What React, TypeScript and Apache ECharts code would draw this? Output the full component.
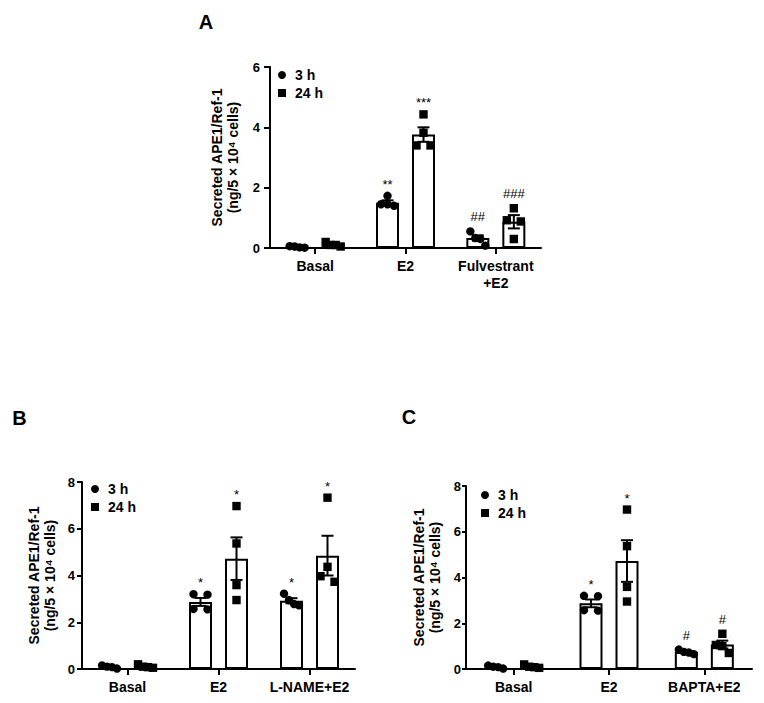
import React, { useEffect, useRef } from "react";
import * as echarts from "echarts";

// ---------- DATA ----------
const categoriesA = ["Basal", "E2", "Fulvestrant\n+E2"];
const categoriesB = ["Basal", "E2", "L-NAME+E2"];
const categoriesC = ["Basal", "E2", "BAPTA+E2"];

// Panel A
const meanA3h = [0.03, 1.5, 0.33];
const semA3h = [0.01, 0.08, 0.09];
const meanA24h = [0.11, 3.76, 0.87];
const semA24h = [0.03, 0.24, 0.22];
const pointsA3h = [
  [0.02, 0.06, 0.01, 0.05],
  [1.73, 1.45, 1.4, 1.45],
  [0.55, 0.33, 0.3, 0.08],
];
const pointsA24h = [
  [0.05, 0.2, 0.1, 0.1],
  [4.43, 3.82, 3.4, 3.4],
  [1.32, 0.92, 0.88, 0.3],
];
const marksA3h = ["", "**", "##"];
const marksA24h = ["", "***", "###"];

// Panel B
const meanB3h = [0.08, 2.87, 2.92];
const semB3h = [0.03, 0.17, 0.11];
const meanB24h = [0.11, 4.72, 4.85];
const semB24h = [0.03, 0.91, 0.85];
const pointsB3h = [
  [0.02, 0.15, 0.1, 0.08],
  [3.2, 3.18, 2.57, 2.55],
  [3.22, 2.95, 2.78, 2.72],
];
const pointsB24h = [
  [0.05, 0.2, 0.08, 0.1],
  [6.97, 5.37, 3.59, 2.95],
  [7.33, 4.37, 3.97, 3.73],
];
const marksB3h = ["", "*", "*"];
const marksB24h = ["", "*", "*"];

// Panel C
const meanC3h = [0.08, 2.87, 0.74];
const semC3h = [0.03, 0.17, 0.04];
const meanC24h = [0.11, 4.72, 1.07];
const semC24h = [0.03, 0.91, 0.17];
const pointsC3h = [
  [0.02, 0.15, 0.1, 0.08],
  [3.2, 3.18, 2.57, 2.55],
  [0.85, 0.72, 0.75, 0.65],
];
const pointsC24h = [
  [0.05, 0.2, 0.08, 0.1],
  [6.97, 5.37, 3.59, 2.95],
  [1.54, 1.05, 1.0, 0.7],
];
const marksC3h = ["", "*", "#"];
const marksC24h = ["", "*", "#"];

const yMaxA = 6;
const yMaxB = 8;
const yMaxC = 8;
const yTickStep = 2;

const seriesNames = ["3 h", "24 h"];
const yTitle = "Secreted APE1/Ref-1\n(ng/5 × 10⁴ cells)";

// ---------- STYLE / LAYOUT ----------
const FONT = '"Liberation Sans", Arial, Helvetica, sans-serif';
const BAR_W = 23;
const BAR_GAP = 13;
const BAR_OFFSET = (BAR_W + BAR_GAP) / 2;

type Panel = {
  letter: string;
  cats: string[];
  yMax: number;
  grid: { left: number; top: number; width: number; height: number };
  legendPos: { left: number; top: number };
  letterPos: { x: number; y: number };
  nameGap: number;
  labelMargin: number;
  tickLen: number;
  mean3: number[];
  sem3: number[];
  mean24: number[];
  sem24: number[];
  pts3: number[][];
  pts24: number[][];
  marks3: string[];
  marks24: string[];
};

const panels: Panel[] = [
  {
    letter: "A",
    cats: categoriesA,
    yMax: yMaxA,
    grid: { left: 270, top: 67, width: 271, height: 181 },
    legendPos: { left: 278, top: 67 },
    letterPos: { x: 206, y: 22 },
    nameGap: 29,
    labelMargin: 10,
    tickLen: 6,
    mean3: meanA3h, sem3: semA3h, mean24: meanA24h, sem24: semA24h,
    pts3: pointsA3h, pts24: pointsA24h, marks3: marksA3h, marks24: marksA24h,
  },
  {
    letter: "B",
    cats: categoriesB,
    yMax: yMaxB,
    grid: { left: 82, top: 482, width: 273, height: 187 },
    legendPos: { left: 91, top: 481 },
    letterPos: { x: 19.5, y: 418 },
    nameGap: 24,
    labelMargin: 7,
    tickLen: 5,
    mean3: meanB3h, sem3: semB3h, mean24: meanB24h, sem24: semB24h,
    pts3: pointsB3h, pts24: pointsB24h, marks3: marksB3h, marks24: marksB24h,
  },
  {
    letter: "C",
    cats: categoriesC,
    yMax: yMaxC,
    grid: { left: 466, top: 486, width: 286, height: 183 },
    legendPos: { left: 481, top: 487 },
    letterPos: { x: 409, y: 417 },
    nameGap: 23,
    labelMargin: 5,
    tickLen: 4,
    mean3: meanC3h, sem3: semC3h, mean24: meanC24h, sem24: semC24h,
    pts3: pointsC3h, pts24: pointsC24h, marks3: marksC3h, marks24: marksC24h,
  },
];

const SPREAD: Record<number, number[]> = {
  1: [0],
  2: [-7, 7],
  3: [-6.5, 0, 6.5],
  4: [-7.5, -2.5, 2.5, 7.5],
};

function makeRenderer(kind: "circle" | "square", sign: number, marks: string[]) {
  return (params: any, api: any) => {
    const c = api.value(0);
    const mean = api.value(1);
    const sem = api.value(2);
    const pts = [api.value(3), api.value(4), api.value(5), api.value(6)];
    const base = api.coord([c, 0]);
    const cx = base[0] + sign * BAR_OFFSET;
    const yTop = api.coord([c, mean + sem])[1];
    const yBot = api.coord([c, Math.max(0, mean - sem)])[1];
    const eb = { stroke: "#000", lineWidth: 2 };
    const children: any[] = [
      { type: "line", shape: { x1: cx, y1: yTop, x2: cx, y2: yBot }, style: eb },
      { type: "line", shape: { x1: cx - 6, y1: yTop, x2: cx + 6, y2: yTop }, style: eb },
      { type: "line", shape: { x1: cx - 6, y1: yBot, x2: cx + 6, y2: yBot }, style: eb },
    ];
    // points with a simple spread of overlapping markers
    const py = pts.map((v: number) => api.coord([c, v])[1]);
    const order = py.map((_: number, i: number) => i).sort((a: number, b: number) => py[a] - py[b]);
    const clusters: number[][] = [];
    let cur: number[] = [];
    order.forEach((idx: number) => {
      if (cur.length && py[idx] - py[cur[cur.length - 1]] >= 8) {
        clusters.push(cur);
        cur = [];
      }
      cur.push(idx);
    });
    if (cur.length) clusters.push(cur);
    clusters.forEach((cl) => {
      const offs = SPREAD[cl.length] || SPREAD[4];
      cl.forEach((idx, k) => {
        const x = cx + offs[k];
        const y = py[idx];
        if (kind === "circle") {
          children.push({ type: "circle", shape: { cx: x, cy: y, r: 4.2 }, style: { fill: "#000" } });
        } else {
          children.push({ type: "rect", shape: { x: x - 4.2, y: y - 4.2, width: 8.4, height: 8.4 }, style: { fill: "#000" } });
        }
      });
    });
    const label = marks[params.dataIndex];
    if (label) {
      const top = Math.min(yTop, ...py);
      const isStar = label.indexOf("*") >= 0;
      children.push({
        type: "text",
        x: cx,
        y: top - 14.5 + (isStar ? 3 : 0),
        style: {
          text: label,
          fill: "#000",
          fontSize: 13,
          fontFamily: FONT,
          align: "center",
          verticalAlign: "middle",
        },
      });
    }
    return { type: "group", children };
  };
}

function buildOption() {
  const grid: any[] = [];
  const xAxis: any[] = [];
  const yAxis: any[] = [];
  const series: any[] = [];
  const legend: any[] = [];
  const graphic: any[] = [];

  panels.forEach((p, i) => {
    grid.push({ ...p.grid, containLabel: false, outerBoundsMode: "none" });
    xAxis.push({
      type: "category",
      gridIndex: i,
      data: p.cats,
      boundaryGap: true,
      axisLine: { show: true, lineStyle: { color: "#000", width: 2 } },
      axisTick: { show: true, alignWithLabel: true, length: 6, lineStyle: { color: "#000", width: 2 } },
      axisLabel: {
        color: "#000",
        fontWeight: "bold",
        fontSize: 14,
        fontFamily: FONT,
        lineHeight: 17,
        margin: 9,
        interval: 0,
      },
      splitLine: { show: false },
    });
    yAxis.push({
      type: "value",
      gridIndex: i,
      min: 0,
      max: p.yMax,
      interval: yTickStep,
      name: yTitle,
      nameLocation: "middle",
      nameRotate: 90,
      nameGap: p.nameGap,
      nameTextStyle: { color: "#000", fontWeight: "bold", fontSize: 14, fontFamily: FONT, lineHeight: 16 },
      axisLine: { show: true, lineStyle: { color: "#000", width: 2 } },
      axisTick: { show: true, length: p.tickLen, lineStyle: { color: "#000", width: 2 } },
      axisLabel: { color: "#000", fontWeight: "bold", fontSize: 13, fontFamily: FONT, margin: p.labelMargin },
      splitLine: { show: false },
    });

    const barStyle = { color: "#fff", borderColor: "#000", borderWidth: 2 };
    series.push({
      type: "bar",
      name: seriesNames[0],
      xAxisIndex: i,
      yAxisIndex: i,
      data: p.mean3,
      barWidth: BAR_W,
      barGap: (BAR_GAP / BAR_W) * 100 + "%",
      itemStyle: barStyle,
      z: 2,
    });
    series.push({
      type: "bar",
      name: seriesNames[1],
      xAxisIndex: i,
      yAxisIndex: i,
      data: p.mean24,
      barWidth: BAR_W,
      barGap: (BAR_GAP / BAR_W) * 100 + "%",
      itemStyle: barStyle,
      z: 2,
    });
    series.push({
      type: "custom",
      name: seriesNames[0],
      xAxisIndex: i,
      yAxisIndex: i,
      z: 5,
      data: p.mean3.map((m, k) => [k, m, p.sem3[k], ...p.pts3[k]]),
      encode: { x: 0, y: [1, 3, 4, 5, 6] },
      renderItem: makeRenderer("circle", -1, p.marks3),
    });
    series.push({
      type: "custom",
      name: seriesNames[1],
      xAxisIndex: i,
      yAxisIndex: i,
      z: 5,
      data: p.mean24.map((m, k) => [k, m, p.sem24[k], ...p.pts24[k]]),
      encode: { x: 0, y: [1, 3, 4, 5, 6] },
      renderItem: makeRenderer("square", 1, p.marks24),
    });

    legend.push({
      left: p.legendPos.left,
      top: p.legendPos.top,
      orient: "vertical",
      itemWidth: 8,
      itemHeight: 8,
      itemGap: 2,
      selectedMode: false,
      padding: 0,
      textStyle: {
        color: "#000",
        fontWeight: "bold",
        fontSize: 14,
        fontFamily: FONT,
        lineHeight: 16,
        padding: [0, 0, 0, 4],
      },
      data: [
        { name: seriesNames[0], icon: "circle", itemStyle: { color: "#000", borderWidth: 0 } },
        { name: seriesNames[1], icon: "rect", itemStyle: { color: "#000", borderWidth: 0 } },
      ],
    });

    graphic.push({
      type: "text",
      x: p.letterPos.x,
      y: p.letterPos.y,
      style: {
        text: p.letter,
        fill: "#000",
        fontSize: 20,
        fontWeight: "bold",
        fontFamily: FONT,
        align: "center",
        verticalAlign: "middle",
      },
    });
  });

  return {
    animation: false,
    backgroundColor: "#fff",
    textStyle: { fontFamily: FONT },
    tooltip: { show: false },
    grid,
    xAxis,
    yAxis,
    legend,
    series,
    graphic,
  };
}

export default function App() {
  const ref = useRef<HTMLDivElement | null>(null);
  useEffect(() => {
    if (!ref.current) return;
    const chart = echarts.init(ref.current, null, { renderer: "svg" });
    chart.setOption(buildOption() as any);
    return () => chart.dispose();
  }, []);
  return (
    <div
      ref={ref}
      style={{ position: "absolute", left: 0, top: 0, width: 764, height: 703, background: "#fff" }}
    />
  );
}
